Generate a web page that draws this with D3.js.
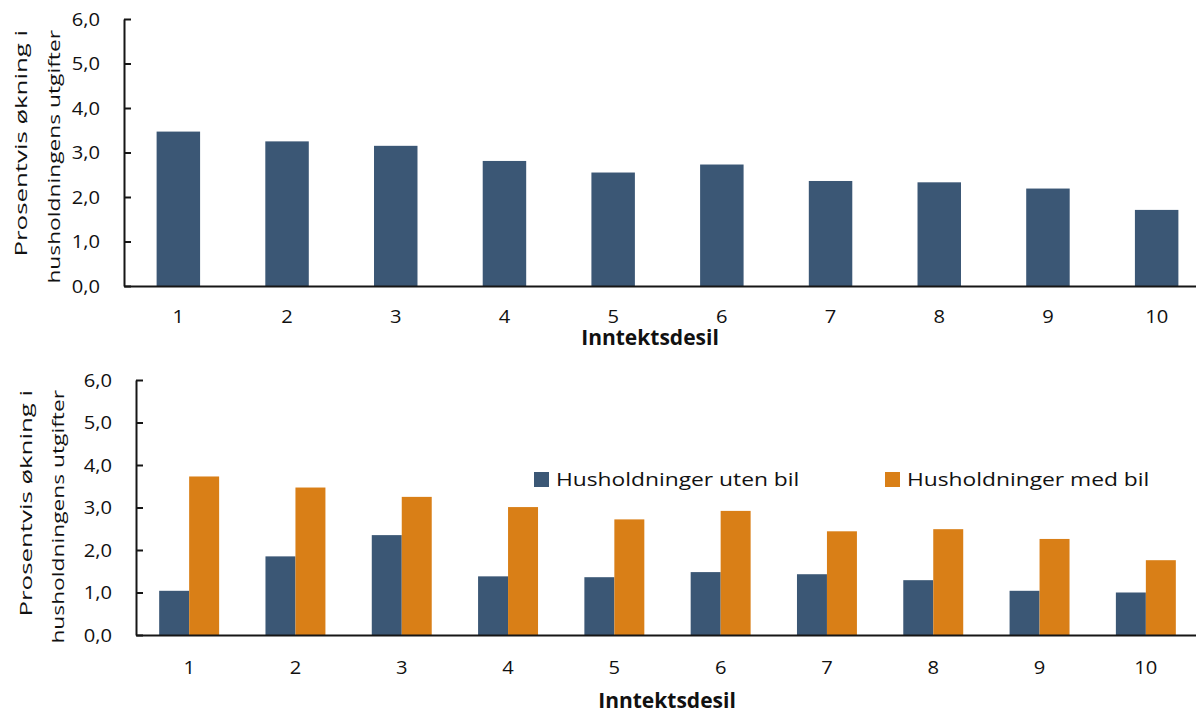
<!DOCTYPE html>
<html lang="no">
<head>
<meta charset="utf-8">
<script src="https://cdn.jsdelivr.net/npm/d3@7"></script>
<style>
  html, body { margin: 0; padding: 0; background: #fff; }
  svg { display: block; }
  text { font-family: "Open Sans", sans-serif; fill: #111; }
</style>
</head>
<body>
<svg id="chart" width="1196" height="713"></svg>
<script>
// Inntektsdesiler og prosentvis økning i husholdningenes utgifter
const deciles = ["1", "2", "3", "4", "5", "6", "7", "8", "9", "10"];
const allHouseholds = [3.47, 3.25, 3.15, 2.81, 2.55, 2.73, 2.36, 2.33, 2.19, 1.71];
const withoutCar = [1.04, 1.85, 2.35, 1.38, 1.36, 1.48, 1.43, 1.29, 1.04, 1.00];
const withCar = [3.73, 3.47, 3.25, 3.01, 2.72, 2.92, 2.44, 2.49, 2.26, 1.76];
const seriesNames = ["Husholdninger uten bil", "Husholdninger med bil"];
const yTicks = [0, 1, 2, 3, 4, 5, 6];
const yTitleLines = ["Prosentvis økning i", "husholdningens utgifter"];
const xTitle = "Inntektsdesil";

const NAVY = "#3B5775";
const ORANGE = "#D97F17";
const AXIS = "#161616";

const svg = d3.select("#chart");
const fmt = v => d3.format(".1f")(v).replace(".", ",");

// Akser, aksetitler og tekst felles for begge panelene
function drawAxes(g, x, y, opts) {
  const yAxis = g.append("g")
    .attr("transform", `translate(${x.range()[0]},0)`)
    .call(d3.axisLeft(y).tickValues(yTicks).tickFormat(fmt)
      .tickSizeInner(-7).tickSizeOuter(0).tickPadding(24));
  yAxis.select(".domain").attr("stroke", AXIS).attr("stroke-width", 2);
  yAxis.selectAll(".tick line").attr("stroke", AXIS).attr("stroke-width", 2);
  yAxis.selectAll(".tick text")
    .attr("x", null)
    .attr("transform", "translate(-24,0) scale(1.12,1)")
    .attr("dy", "0.34em")
    .style("font-size", "18px").style("fill", "#111");

  const xAxis = g.append("g")
    .attr("transform", `translate(0,${y(0)})`)
    .call(d3.axisBottom(x).tickSize(0).tickPadding(opts.xPad));
  xAxis.select(".domain").attr("stroke", AXIS).attr("stroke-width", 2);
  xAxis.selectAll(".tick text")
    .attr("transform", "scale(1.12,1)")
    .style("font-size", "18px").style("fill", "#111");

  g.append("text")
    .attr("x", opts.titleX).attr("y", opts.titleY)
    .attr("text-anchor", "middle")
    .style("font-size", "21px").style("font-weight", "700")
    .text(xTitle);

  const stretch = [1.52, 1.34];
  yTitleLines.forEach((line, i) => {
    g.append("text")
      .attr("transform", `translate(${opts.yTitleX[i]},${opts.yTitleTop}) rotate(-90) scale(${stretch[i]},1)`)
      .attr("text-anchor", "end")
      .style("font-size", "17px")
      .text(line);
  });
}

// Øverste panel: alle husholdninger
{
  const x = d3.scaleBand().domain(deciles).range([124, 1211])
    .paddingInner(0.6).paddingOuter(0.3);
  const y = d3.scaleLinear().domain([0, 6]).range([286, 19]);
  const g = svg.append("g");

  g.append("g").selectAll("rect")
    .data(allHouseholds)
    .join("rect")
    .attr("x", (d, i) => x(deciles[i]))
    .attr("y", d => y(d))
    .attr("width", x.bandwidth())
    .attr("height", d => y(0) - y(d))
    .attr("fill", NAVY);

  drawAxes(g, x, y, { xPad: 24, titleX: 650, titleY: 345, yTitleX: [26.5, 59.5], yTitleTop: 30 });
}

// Nederste panel: husholdninger med og uten bil
{
  const x = d3.scaleBand().domain(deciles).range([136, 1199])
    .paddingInner(0.436).paddingOuter(0.218);
  const xs = d3.scaleBand().domain(seriesNames).range([0, x.bandwidth()]);
  const y = d3.scaleLinear().domain([0, 6]).range([635, 380]);
  const color = d3.scaleOrdinal().domain(seriesNames).range([NAVY, ORANGE]);
  const g = svg.append("g");

  const rows = deciles.map((d, i) => ({
    decile: d,
    values: [
      { key: seriesNames[0], value: withoutCar[i] },
      { key: seriesNames[1], value: withCar[i] }
    ]
  }));

  g.append("g").selectAll("g")
    .data(rows)
    .join("g")
    .attr("transform", d => `translate(${x(d.decile)},0)`)
    .selectAll("rect")
    .data(d => d.values)
    .join("rect")
    .attr("x", d => xs(d.key))
    .attr("y", d => y(d.value))
    .attr("width", xs.bandwidth())
    .attr("height", d => y(0) - y(d.value))
    .attr("fill", d => color(d.key));

  drawAxes(g, x, y, { xPad: 26, titleX: 667, titleY: 708, yTitleX: [32, 64], yTitleTop: 390 });

  // Forklaring
  const legendX = [534, 885];
  const legend = g.append("g").selectAll("g")
    .data(seriesNames)
    .join("g")
    .attr("transform", (d, i) => `translate(${legendX[i]},472)`);
  legend.append("rect")
    .attr("width", 15).attr("height", 15)
    .attr("fill", d => color(d));
  legend.append("text")
    .attr("transform", "translate(22,14) scale(1.2,1)")
    .style("font-size", "19px")
    .text(d => d);
}
</script>
</body>
</html>
